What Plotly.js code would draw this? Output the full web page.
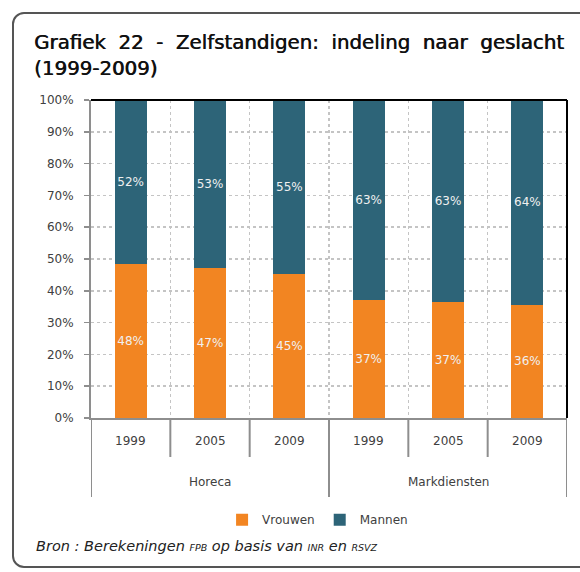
<!DOCTYPE html>
<html>
<head>
<meta charset="utf-8">
<script src="https://cdn.plot.ly/plotly-3.0.1.min.js"></script>
<style>
  html, body { margin: 0; padding: 0; background: #ffffff; }
  #frame { position: absolute; left: 12px; top: 12px; width: 620px; height: 556px;
           border: 2px solid #555555; border-radius: 12px; box-sizing: border-box; }
  #chart { position: absolute; left: 0; top: 0; width: 580px; height: 572px; }
</style>
</head>
<body>
<div id="frame"></div>
<div id="chart"></div>
<script>
// ---- data ----
const groups  = ['Horeca', 'Horeca', 'Horeca', 'Markdiensten', 'Markdiensten', 'Markdiensten'];
const years   = ['1999', '2005', '2009', '1999', '2005', '2009'];
const vrouwen = [48.4, 47.3, 45.3, 37.1, 36.6, 35.6];
const mannen  = [51.6, 52.7, 54.7, 62.9, 63.4, 64.4];
const yTickVals = [0, 10, 20, 30, 40, 50, 60, 70, 80, 90, 100];

// ---- derived ----
const idx = years.map((_, i) => i);
const boundaries = idx.slice(0, -1).map(i => i + 0.5);
const groupNames = [...new Set(groups)];
const groupStart = groupNames.map(g => groups.indexOf(g));
const groupEnd = groupNames.map(g => groups.lastIndexOf(g));

const ORANGE = '#F28522';
const TEAL = '#2D6478';
const GRAY = '#8E8E8E';
const TXT = '#404040';
const FONT = 'DejaVu Sans, sans-serif';

const barCommon = {
  type: 'bar', x: idx, width: 0.4,
  texttemplate: '%{y:.0f}%', textposition: 'inside', insidetextanchor: 'middle',
  textangle: 0, constraintext: 'none',
  textfont: { family: FONT, size: 12, color: '#F0F0F0' },
  hoverinfo: 'skip'
};
const traces = [
  Object.assign({}, barCommon, { name: 'Vrouwen', y: vrouwen, marker: { color: ORANGE } }),
  Object.assign({}, barCommon, { name: 'Mannen', y: mannen, marker: { color: TEAL } })
];

// axis decoration below the plot
const shapes = [];
const annotations = [];
const yInner = -0.1226, yOuter = -0.2484;
boundaries.forEach(b => {
  const isGroupEdge = groupEnd.includes(b - 0.5) && groupStart.includes(b + 0.5);
  shapes.push({ type: 'line', xref: 'x', yref: 'paper', x0: b, x1: b, y0: 0, y1: isGroupEdge ? yOuter : yInner,
                line: { color: GRAY, width: 2 } });
});
[-0.5, idx.length - 0.5].forEach(b => {
  shapes.push({ type: 'line', xref: 'x', yref: 'paper', x0: b, x1: b, y0: 0, y1: yOuter,
                line: { color: GRAY, width: 2 } });
});
shapes.push({ type: 'line', xref: 'paper', yref: 'paper', x0: 0, x1: 1, y0: 1, y1: 1, line: { color: '#000000', width: 2 } });
shapes.push({ type: 'line', xref: 'paper', yref: 'paper', x0: 1, x1: 1, y0: 0, y1: 1, line: { color: '#000000', width: 2 } });

years.forEach((yr, i) => {
  annotations.push({ x: i, y: -0.0723, xref: 'x', yref: 'paper', text: yr, showarrow: false,
                     xanchor: 'center', yanchor: 'middle', font: { family: FONT, size: 12, color: TXT } });
});
groupNames.forEach((g, k) => {
  annotations.push({ x: (groupStart[k] + groupEnd[k]) / 2, y: -0.2013, xref: 'x', yref: 'paper', text: g,
                     showarrow: false, xanchor: 'center', yanchor: 'middle',
                     font: { family: FONT, size: 12, color: TXT } });
});
const sc = s => '<span style="font-size:9.5px">' + s + '</span>';
annotations.push({ x: -0.1197, y: -0.4025, xref: 'paper', yref: 'paper', xanchor: 'left', yanchor: 'middle',
                   showarrow: false, align: 'left',
                   text: '<i>Bron : Berekeningen ' + sc('FPB') + ' op basis van ' + sc('INR') + ' en ' + sc('RSVZ') + '</i>',
                   font: { family: FONT, size: 14.5, color: '#222222' } });

const G = '\u00A0 ';
const layout = {
  width: 580, height: 572,
  margin: { l: 91, r: 13, t: 100, b: 154 },
  paper_bgcolor: 'rgba(0,0,0,0)', plot_bgcolor: '#ffffff',
  barmode: 'stack',
  showlegend: true,
  title: {
    text: 'Grafiek' + G + '22' + G + '-' + G + 'Zelfstandigen:' + G + 'indeling' + G + 'naar' + G + 'geslacht<br>(1999-2009)',
    xref: 'container', yref: 'container', x: 34 / 580, xanchor: 'left', y: 1 - 49 / 572, yanchor: 'top',
    font: { family: FONT, size: 19.8, color: '#111111', shadow: '0.6px 0 0 #111111' }
  },
  xaxis: {
    type: 'linear', range: [-0.5, idx.length - 0.5], fixedrange: true,
    tickmode: 'array', tickvals: boundaries, showticklabels: false, ticks: '',
    showgrid: true, gridcolor: '#C4C4C4', griddash: 'dot', gridwidth: 1.5,
    showline: true, linecolor: GRAY, linewidth: 2, zeroline: false
  },
  yaxis: {
    range: [0, 100], tickmode: 'array', tickvals: yTickVals, ticktext: yTickVals.map(v => v + '%'),
    ticks: 'outside', ticklen: 5, tickcolor: GRAY, tickwidth: 1.5, ticklabelstandoff: 8,
    tickfont: { family: FONT, size: 12, color: TXT },
    showgrid: true, gridcolor: '#C4C4C4', griddash: 'dot', gridwidth: 1.5,
    showline: true, linecolor: GRAY, linewidth: 2, zeroline: false, fixedrange: true
  },
  legend: {
    orientation: 'h', x: 0.476, xanchor: 'center', y: -0.32, yanchor: 'middle',
    traceorder: 'normal', font: { family: FONT, size: 12, color: TXT }, itemwidth: 30
  },
  shapes: shapes,
  annotations: annotations
};

Plotly.newPlot('chart', traces, layout, { displayModeBar: false, staticPlot: true });
</script>
</body>
</html>
